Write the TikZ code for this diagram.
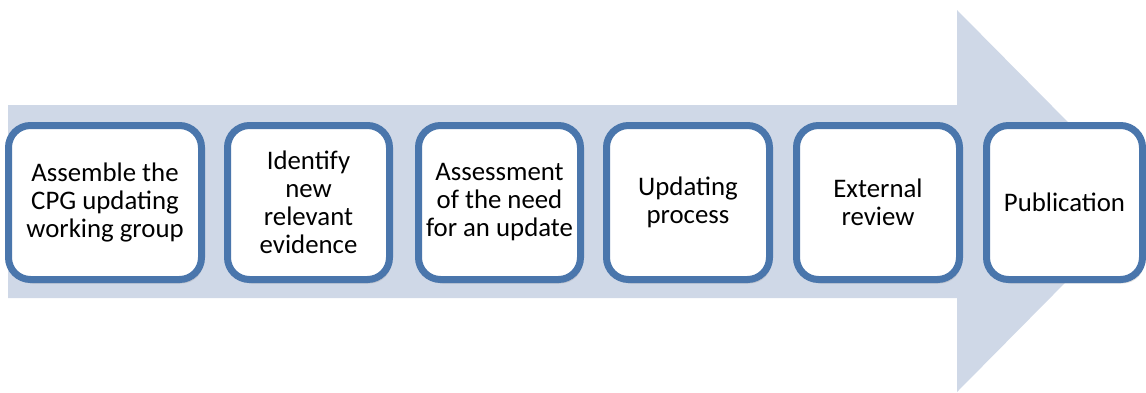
\documentclass[tikz,border=0pt]{standalone}
\usepackage{fontspec}
\setmainfont{Carlito}
\usetikzlibrary{shadows}
\definecolor{arrowfill}{HTML}{CFD8E7}
\definecolor{boxline}{HTML}{4A76AC}
\begin{document}
\begin{tikzpicture}[x=1pt,y=-1pt,
  stepbox/.style={draw=boxline, line width=7pt, fill=white, rounded corners=22pt,
    minimum height=154pt, align=center, inner sep=0pt,
    font=\fontsize{26.8}{28}\selectfont, text=black,
    drop shadow={opacity=0.25, shadow xshift=2pt, shadow yshift=-4pt}}]
\useasboundingbox (0,0) rectangle (1146,392);
\fill[arrowfill] (8,105) -- (957,105) -- (957,10) -- (1146,201) -- (957,392) -- (957,298) -- (8,298) -- cycle;
\node[stepbox, minimum width=193pt] (s1) at (105,202.5) {Assemble the\\CPG updating\\working group};
\node[stepbox, minimum width=162pt] (s2) at (308.5,202.5) {Identify\\new\\relevant\\evidence};
\node[stepbox, minimum width=162pt] (s3) at (499.5,202.5) {Assessment\\of the need\\for an update};
\node[stepbox, minimum width=163pt] (s4) at (688,202.5) {Updating\\process};
\node[stepbox, minimum width=163pt] (s5) at (878,202.5) {External\\review};
\node[stepbox, minimum width=156pt] (s6) at (1064.5,202.5) {Publication};
\end{tikzpicture}
\end{document}
